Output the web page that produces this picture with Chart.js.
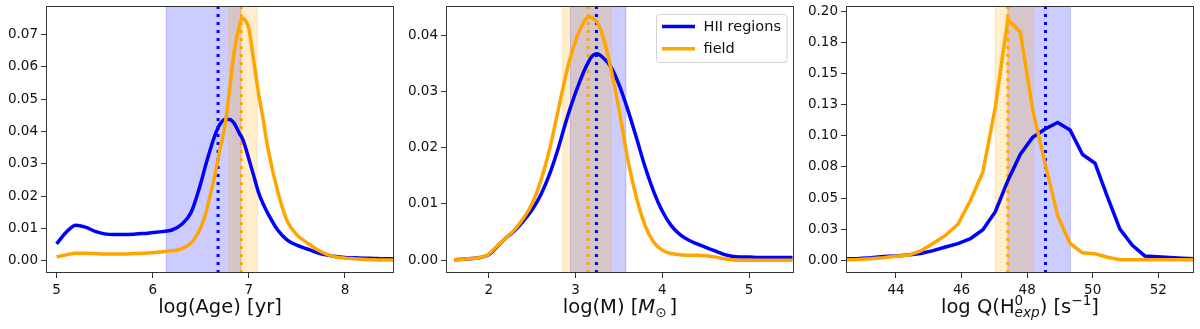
<!DOCTYPE html>
<html>
<head>
<meta charset="utf-8">
<title>Age, mass and Q distributions</title>
<script src="https://cdn.jsdelivr.net/npm/chart.js@4.4.0/dist/chart.umd.min.js"></script>
<style>
  html, body { margin: 0; padding: 0; background: #fff; }
  #wrap { position: relative; width: 1200px; height: 329px; }
  .panel { position: absolute; top: 0; width: 400px; height: 329px; }
</style>
</head>
<body>
<div id="wrap">
  <div class="panel" style="left:0px"><canvas id="age-chart" width="400" height="329"></canvas></div>
  <div class="panel" style="left:400px"><canvas id="mass-chart" width="400" height="329"></canvas></div>
  <div class="panel" style="left:800px"><canvas id="q-chart" width="400" height="329"></canvas></div>
</div>
<script>
// ---- data ----

// Panel 1: log(Age)
const ageX = [5.0, 5.1, 5.2, 5.3, 5.4, 5.5, 5.6, 5.7, 5.8, 5.9, 6.0, 6.1, 6.2, 6.3, 6.4, 6.5, 6.55, 6.6, 6.65, 6.7,
  6.75, 6.8, 6.85, 6.9, 6.93, 6.95, 7.0, 7.05, 7.1, 7.15, 7.2, 7.3, 7.4, 7.5, 7.6, 7.7, 7.8, 7.9, 8.0, 8.1, 8.2, 8.3, 8.4, 8.5];
const ageHII = [0.0052, 0.0088, 0.0110, 0.0104, 0.0091, 0.0083, 0.0081, 0.0081, 0.0082, 0.0084, 0.0087, 0.0090, 0.0095, 0.0112, 0.0150, 0.0240, 0.0295, 0.0345, 0.0390, 0.0422,
  0.0437, 0.0437, 0.0424, 0.0395, 0.0380, 0.0365, 0.0315, 0.0264, 0.0212, 0.0175, 0.0145, 0.0095, 0.0064, 0.0048, 0.0037, 0.0026, 0.0018, 0.0013, 0.0010, 0.0009, 0.0008, 0.0007, 0.0006, 0.0006];
const ageField = [0.0012, 0.0018, 0.0023, 0.0023, 0.0022, 0.0021, 0.0021, 0.0021, 0.0022, 0.0023, 0.0025, 0.0028, 0.0031, 0.0037, 0.0055, 0.0103, 0.0145, 0.0205, 0.0270, 0.0345,
  0.0415, 0.0530, 0.0650, 0.0725, 0.0750, 0.0748, 0.0718, 0.0620, 0.0520, 0.0435, 0.0345, 0.0215, 0.0122, 0.0080, 0.0057, 0.0036, 0.0021, 0.0012, 0.0008, 0.0006, 0.0004, 0.0003, 0.0002, 0.0002];
const ageHIIRange = [6.14, 6.92];
const ageFieldRange = [6.79, 7.09];
const ageHIIMedian = 6.68;
const ageFieldMedian = 6.92;
const ageXLimits = [4.89, 8.51];
const ageYLimits = [-0.0038, 0.0788];
const ageXTicks = [5, 6, 7, 8];
const ageYTicks = [0, 0.01, 0.02, 0.03, 0.04, 0.05, 0.06, 0.07];
const ageYTickLabels = ['0.00', '0.01', '0.02', '0.03', '0.04', '0.05', '0.06', '0.07'];

// Panel 2: log(M)
const massX = [1.6, 1.7, 1.8, 1.9, 2.0, 2.1, 2.2, 2.3, 2.4, 2.5, 2.6, 2.7, 2.8, 2.9, 3.0, 3.1, 3.15, 3.2, 3.25, 3.3,
  3.4, 3.5, 3.6, 3.7, 3.8, 3.9, 4.0, 4.1, 4.2, 4.3, 4.4, 4.5, 4.6, 4.7, 4.8, 4.9, 5.0, 5.1, 5.2, 5.3, 5.4, 5.5];
const massHII = [0.0001, 0.0002, 0.0003, 0.0005, 0.0010, 0.0025, 0.0040, 0.0053, 0.0070, 0.0090, 0.0117, 0.0153, 0.0199, 0.0252, 0.0298, 0.0337, 0.0353, 0.0364, 0.0367, 0.0362,
  0.0345, 0.0312, 0.0268, 0.0218, 0.0166, 0.0122, 0.0087, 0.0062, 0.0046, 0.0036, 0.0029, 0.0023, 0.0017, 0.0011, 0.0007, 0.0006, 0.0006, 0.0005, 0.0005, 0.0005, 0.0005, 0.0005];
const massField = [0.0001, 0.0002, 0.0003, 0.0005, 0.0011, 0.0026, 0.0040, 0.0055, 0.0075, 0.0101, 0.0142, 0.0197, 0.0267, 0.0337, 0.0390, 0.0424, 0.0432, 0.0430, 0.0422, 0.0405,
  0.0345, 0.0268, 0.0180, 0.0112, 0.0062, 0.0032, 0.0018, 0.0012, 0.0010, 0.0009, 0.0009, 0.0008, 0.0006, 0.0003, 0.0001, 0, 0, 0, 0, 0, 0, 0];
const massHIIRange = [2.94, 3.58];
const massFieldRange = [2.85, 3.41];
const massHIIMedian = 3.24;
const massFieldMedian = 3.145;
const massXLimits = [1.506, 5.517];
const massYLimits = [-0.00226, 0.04516];
const massXTicks = [2, 3, 4, 5];
const massYTicks = [0, 0.01, 0.02, 0.03, 0.04];
const massYTickLabels = ['0.00', '0.01', '0.02', '0.03', '0.04'];

// Panel 3: log Q(H0_exp)
const qX = [42.47, 42.85, 43.23, 43.61, 43.99, 44.37, 44.75, 45.13, 45.51, 45.89, 46.27, 46.65, 47.03, 47.41, 47.79,
  48.17, 48.55, 48.93, 49.31, 49.69, 50.07, 50.45, 50.83, 51.21, 51.59, 51.97, 52.35, 52.73, 53.11];
const qHII = [0.0013, 0.0015, 0.0020, 0.0030, 0.0035, 0.0042, 0.0055, 0.0078, 0.0107, 0.0134, 0.0174, 0.0246, 0.0390, 0.0640, 0.0850,
  0.0988, 0.1055, 0.1107, 0.1047, 0.0850, 0.0780, 0.0510, 0.0250, 0.0120, 0.0035, 0.0028, 0.0022, 0.0016, 0.0012];
const qField = [0.0005, 0.0007, 0.0012, 0.0020, 0.0032, 0.0040, 0.0075, 0.0135, 0.0200, 0.0290, 0.0480, 0.0710, 0.1230, 0.1935, 0.1835,
  0.1210, 0.0775, 0.0360, 0.0135, 0.0060, 0.0052, 0.0025, 0.0005, 0.0005, 0.0005, 0.0005, 0.0005, 0.0005, 0.0005];
const qHIIRange = [47.41, 49.32];
const qFieldRange = [47.02, 48.19];
const qHIIMedian = 48.56;
const qFieldMedian = 47.41;
const qXLimits = [42.475, 53.09];
const qYLimits = [-0.0102, 0.2043];
const qXTicks = [44, 46, 48, 50, 52];
const qYTicks = [0, 0.025, 0.05, 0.075, 0.1, 0.125, 0.15, 0.175, 0.2];
const qYTickLabels = ['0.00', '0.03', '0.05', '0.08', '0.10', '0.13', '0.15', '0.18', '0.20'];

const seriesLabels = ['HII regions', 'field'];

// axis titles as text runs (sup / sub handled by the title plugin)
const ageTitle = [{ text: 'log(Age) [yr]' }];
const massTitle = [{ text: 'log(M) [' }, { text: 'M', italic: true }, { sub: '\u2299' }, { gap: 3 }, { text: ']' }];
const qTitle = [{ text: 'log Q(H' }, { sup: '0', sub: 'exp', subItalic: true }, { text: ') [s' }, { sup: '\u22121' }, { text: ']' }];

// ---- styling ----
const BLUE = '#0000ff';
const ORANGE = '#ffa500';
const BLUE_SPAN = 'rgba(0, 0, 255, 0.2)';
const ORANGE_SPAN = 'rgba(255, 165, 0, 0.2)';
const FONT = '"DejaVu Sans"';
const TEXT = '#111111';
const AXIS = '#333333';

Chart.defaults.font.family = FONT;
Chart.defaults.color = TEXT;

function pairs(xs, ys) {
  return xs.map((x, i) => ({ x: x, y: ys[i] }));
}

/**
 * Shaded percentile spans and dotted median lines, drawn under the curves
 */
function markersPlugin(spans, medians) {
  return {
    id: 'markers',
    beforeDatasetsDraw(chart) {
      const { ctx, chartArea: a, scales } = chart;
      const xs = scales.x;
      ctx.save();
      ctx.beginPath();
      ctx.rect(a.left, a.top, a.right - a.left, a.bottom - a.top);
      ctx.clip();
      spans.forEach(s => {
        const x0 = xs.getPixelForValue(s.range[0]);
        const x1 = xs.getPixelForValue(s.range[1]);
        ctx.fillStyle = s.color;
        ctx.fillRect(x0, a.top, x1 - x0, a.bottom - a.top);
        ctx.strokeStyle = s.color;
        ctx.lineWidth = 1;
        ctx.beginPath();
        ctx.moveTo(x0, a.top); ctx.lineTo(x0, a.bottom);
        ctx.moveTo(x1, a.top); ctx.lineTo(x1, a.bottom);
        ctx.stroke();
      });
      medians.forEach(m => {
        const px = xs.getPixelForValue(m.value);
        ctx.strokeStyle = m.color;
        ctx.lineWidth = 3;
        ctx.setLineDash([3, 5]);
        ctx.beginPath();
        ctx.moveTo(px, a.bottom);
        ctx.lineTo(px, a.top);
        ctx.stroke();
      });
      ctx.restore();
    }
  };
}

// full box around the plot area, like matplotlib spines
const framePlugin = {
  id: 'frame',
  afterDatasetsDraw(chart) {
    const { ctx, chartArea: a } = chart;
    ctx.save();
    ctx.strokeStyle = AXIS;
    ctx.lineWidth = 1;
    ctx.strokeRect(Math.round(a.left) + 0.5, Math.round(a.top) + 0.5,
      Math.round(a.right - a.left) - 1, Math.round(a.bottom - a.top) - 1);
    ctx.restore();
  }
};

/**
 * Axis title with simple super/subscripts
 */
function titlePlugin(runs) {
  return {
    id: 'xTitle',
    afterDraw(chart) {
      const { ctx, chartArea: a } = chart;
      const size = 19.5;
      const small = size * 0.7;
      const font = (s, it) => (it ? 'italic ' : '') + s + 'px ' + FONT;
      ctx.save();
      ctx.fillStyle = TEXT;
      ctx.textBaseline = 'alphabetic';
      ctx.textAlign = 'left';
      const widths = runs.map(r => {
        if (r.gap) return r.gap;
        if (r.text !== undefined) {
          ctx.font = font(size, r.italic);
          return ctx.measureText(r.text).width;
        }
        let w = 0;
        if (r.sup) { ctx.font = font(small, false); w = Math.max(w, ctx.measureText(r.sup).width); }
        if (r.sub) { ctx.font = font(small, r.subItalic); w = Math.max(w, ctx.measureText(r.sub).width); }
        return w;
      });
      const total = widths.reduce((p, c) => p + c, 0);
      let cx = (a.left + a.right) / 2 - total / 2;
      const y = a.bottom + 40;
      runs.forEach((r, i) => {
        if (r.text !== undefined) {
          ctx.font = font(size, r.italic);
          ctx.fillText(r.text, cx, y);
        } else if (!r.gap) {
          if (r.sup) { ctx.font = font(small, false); ctx.fillText(r.sup, cx, y - size * 0.42); }
          if (r.sub) { ctx.font = font(small, r.subItalic); ctx.fillText(r.sub, cx, y + size * 0.2); }
        }
        cx += widths[i];
      });
      ctx.restore();
    }
  };
}

// legend box in the upper right of the middle panel
const legendPlugin = {
  id: 'cornerLegend',
  afterDraw(chart) {
    const { ctx, chartArea: a } = chart;
    const items = chart.data.datasets;
    ctx.save();
    ctx.font = '14.5px ' + FONT;
    const textW = Math.max(...items.map(d => ctx.measureText(d.label).width));
    const w = 5.5 + 33 + 8.5 + textW + 6;
    const h = 48;
    const x0 = Math.round(a.right - 8 - w) + 0.5;
    const y0 = Math.round(a.top + 8) + 0.5;
    ctx.beginPath();
    ctx.roundRect(x0, y0, w, h, 3);
    ctx.fillStyle = 'rgba(255, 255, 255, 0.8)';
    ctx.fill();
    ctx.strokeStyle = '#d3d3d3';
    ctx.lineWidth = 1;
    ctx.stroke();
    items.forEach((d, i) => {
      const y = y0 + 12 + i * 22.3;
      ctx.strokeStyle = d.borderColor;
      ctx.lineWidth = 3.5;
      ctx.beginPath();
      ctx.moveTo(x0 + 5.5, y);
      ctx.lineTo(x0 + 38.5, y);
      ctx.stroke();
      ctx.fillStyle = TEXT;
      ctx.textBaseline = 'middle';
      ctx.fillText(d.label, x0 + 47, y + 0.5);
    });
    ctx.restore();
  }
};

function buildChart(canvasId, xs, hii, field, opts) {
  const canvas = document.getElementById(canvasId);
  if (!canvas) {
    console.error('Cannot find canvas ' + canvasId);
    return null;
  }
  const line = {
    pointRadius: 0,
    borderWidth: 3.5,
    fill: false,
    tension: 0,
    cubicInterpolationMode: opts.smooth ? 'monotone' : 'default'
  };
  const plugins = [
    markersPlugin(
      [
        { range: opts.hiiRange, color: BLUE_SPAN },
        { range: opts.fieldRange, color: ORANGE_SPAN }
      ],
      [
        { value: opts.hiiMedian, color: BLUE },
        { value: opts.fieldMedian, color: ORANGE }
      ]
    ),
    framePlugin,
    titlePlugin(opts.title)
  ];
  if (opts.legend) plugins.push(legendPlugin);

  return new Chart(canvas.getContext('2d'), {
    type: 'line',
    data: {
      datasets: [
        Object.assign({ label: seriesLabels[0], data: pairs(xs, hii), borderColor: BLUE, order: 1 }, line),
        Object.assign({ label: seriesLabels[1], data: pairs(xs, field), borderColor: ORANGE, order: 0 }, line)
      ]
    },
    options: {
      responsive: false,
      animation: false,
      events: [],
      layout: { padding: { top: 6, right: 6, bottom: 0, left: 0 } },
      plugins: {
        legend: { display: false },
        tooltip: { enabled: false }
      },
      scales: {
        x: {
          type: 'linear',
          min: opts.xLimits[0],
          max: opts.xLimits[1],
          afterBuildTicks: scale => { scale.ticks = opts.xTicks.map(v => ({ value: v })); },
          afterFit: scale => { scale.height = 56; scale.paddingLeft = 0; scale.paddingRight = 0; },
          ticks: {
            font: { size: 13.5 },
            color: TEXT,
            padding: 4,
            maxRotation: 0,
            callback: v => String(v)
          },
          grid: { drawOnChartArea: false, drawTicks: true, tickLength: 5, tickColor: AXIS, tickWidth: 1 },
          border: { display: false }
        },
        y: {
          type: 'linear',
          min: opts.yLimits[0],
          max: opts.yLimits[1],
          afterBuildTicks: scale => { scale.ticks = opts.yTicks.map(v => ({ value: v })); },
          afterFit: scale => { scale.width = 46; scale.paddingTop = 0; scale.paddingBottom = 0; },
          ticks: {
            font: { size: 13.5 },
            color: TEXT,
            padding: 3,
            callback: (v, i) => opts.yTickLabels[i]
          },
          grid: { drawOnChartArea: false, drawTicks: true, tickLength: 5, tickColor: AXIS, tickWidth: 1 },
          border: { display: false }
        }
      }
    },
    plugins: plugins
  });
}

try {
  buildChart('age-chart', ageX, ageHII, ageField, {
    smooth: true,
    hiiRange: ageHIIRange, fieldRange: ageFieldRange,
    hiiMedian: ageHIIMedian, fieldMedian: ageFieldMedian,
    xLimits: ageXLimits, yLimits: ageYLimits,
    xTicks: ageXTicks, yTicks: ageYTicks, yTickLabels: ageYTickLabels,
    title: ageTitle
  });
  buildChart('mass-chart', massX, massHII, massField, {
    smooth: true, legend: true,
    hiiRange: massHIIRange, fieldRange: massFieldRange,
    hiiMedian: massHIIMedian, fieldMedian: massFieldMedian,
    xLimits: massXLimits, yLimits: massYLimits,
    xTicks: massXTicks, yTicks: massYTicks, yTickLabels: massYTickLabels,
    title: massTitle
  });
  buildChart('q-chart', qX, qHII, qField, {
    smooth: false,
    hiiRange: qHIIRange, fieldRange: qFieldRange,
    hiiMedian: qHIIMedian, fieldMedian: qFieldMedian,
    xLimits: qXLimits, yLimits: qYLimits,
    xTicks: qXTicks, yTicks: qYTicks, yTickLabels: qYTickLabels,
    title: qTitle
  });
} catch (error) {
  console.error('Error building charts:', error);
}
</script>
</body>
</html>
